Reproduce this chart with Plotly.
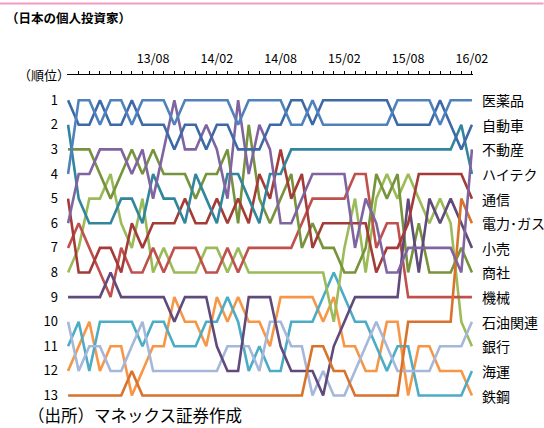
import plotly.graph_objects as go

# 39 monthly observations, 2012/12 .. 2016/02
months = ["12/12",
          "13/01","13/02","13/03","13/04","13/05","13/06","13/07","13/08","13/09","13/10","13/11","13/12",
          "14/01","14/02","14/03","14/04","14/05","14/06","14/07","14/08","14/09","14/10","14/11","14/12",
          "15/01","15/02","15/03","15/04","15/05","15/06","15/07","15/08","15/09","15/10","15/11","15/12",
          "16/01","16/02"]
tick_labels = ["13/08", "14/02", "14/08", "15/02", "15/08", "16/02"]

# rank series (1 = top)
rank_iyakuhin = [4,1,1,2,1,1,2,1,1,1, 2,1,1,1,1,1,2,1,1,1, 1,2,2,1,2,2,2,2,2,2, 2,1,1,1,1,2,1,1,1]
rank_jidosha  = [1,2,2,1,2,2,1,2,2,2, 3,2,2,3,2,2,3,3,3,2, 2,1,1,2,1,1,1,1,1,1, 1,2,2,2,2,1,2,3,2]
rank_fudosan  = [6,4,4,3,3,3,4,3,5,3, 1,3,3,2,3,5,1,4,2,3, 6,6,5,4,4,4,4,7,5,6, 8,8,7,7,7,7,7,8,3]
rank_hightech = [2,5,6,6,6,5,5,6,4,5, 5,6,4,5,6,4,4,5,6,4, 4,3,3,3,3,3,3,3,3,3, 3,3,3,3,3,3,3,2,4]
rank_tsushin  = [5,8,8,7,7,8,6,7,6,6, 6,5,6,6,5,6,5,6,4,5, 3,5,4,7,6,6,6,6,6,8, 7,7,6,4,4,4,4,4,5]
rank_denryoku = [13,13,13,13,13,13,12,13,13,13, 13,13,13,13,13,13,13,13,13,13, 13,13,13,11,11,12,12,13,13,13, 13,13,10,10,10,10,10,5,6]
rank_kouri    = [9,9,9,9,8,9,9,9,9,9, 10,9,9,9,11,12,12,9,9,9, 11,12,12,12,13,11,10,9,9,9, 9,9,5,8,5,6,5,6,7]
rank_shosha   = [3,3,3,4,5,4,3,4,3,4, 4,4,5,4,4,3,6,2,5,6, 5,4,7,6,7,7,8,8,7,4, 5,4,8,6,8,8,8,7,8]
rank_kikai    = [7,6,7,8,9,7,8,8,7,8, 7,7,7,8,8,7,8,7,7,7, 7,7,6,5,5,5,5,4,4,7, 6,6,9,9,9,9,9,9,9]
rank_sekiyu   = [10,12,11,11,12,12,11,10,12,12, 12,12,12,12,12,11,11,11,12,10, 10,11,11,13,12,13,13,12,11,10, 11,12,12,12,12,11,11,11,10]
rank_ginko    = [8,7,5,5,4,6,7,5,8,7, 8,8,8,7,7,8,7,8,8,8, 8,8,8,8,8,10,7,5,8,5, 4,5,4,5,6,5,6,10,11]
rank_kaiun    = [11,10,12,10,10,10,10,11,10,10, 11,11,11,10,10,9,10,12,11,12, 12,10,10,10,9,8,9,10,10,11, 12,11,11,13,13,13,13,13,12]
rank_tekko    = [12,11,10,12,11,11,13,12,11,11, 9,10,10,11,9,10,9,10,10,11, 9,9,9,9,10,9,11,11,12,12, 10,10,13,11,11,12,12,12,13]

sector_names = ["医薬品", "自動車", "不動産", "ハイテク", "通信", "電力・ガス", "小売",
                "商社", "機械", "石油関連", "銀行", "海運", "鉄鋼"]
sector_ranks = [rank_iyakuhin, rank_jidosha, rank_fudosan, rank_hightech, rank_tsushin,
                rank_denryoku, rank_kouri, rank_shosha, rank_kikai, rank_sekiyu,
                rank_ginko, rank_kaiun, rank_tekko]
sector_colors = ["#4F81BD", "#3D69A6", "#8064A2", "#31859C", "#A33B38", "#D9722A", "#604A7B",
                 "#77933C", "#C0504D", "#A5B7DA", "#9BBB59", "#4BACC6", "#F79646"]

FONT = "Noto Sans CJK JP"
W, H = 544, 428
L, R, T, B = 67.2, 473.4, 74.5, 397.8


def px(x):
    return (x - L) / (R - L)


def py(y):
    return (B - y) / (B - T)


def label_html(name):
    # the source font sets the middle dot narrow: use the half-width form
    return name.replace("・", "･")


fig = go.Figure()
# draw so that the first listed sector ends on top
for name, ranks, color in reversed(list(zip(sector_names, sector_ranks, sector_colors))):
    fig.add_trace(go.Scatter(x=months, y=ranks, mode="lines", name=name,
                             line=dict(color=color, width=2.6), hoverinfo="skip"))

# final-rank labels on the right
for name, ranks in zip(sector_names, sector_ranks):
    fig.add_annotation(x=months[-1], y=ranks[-1], text=label_html(name), showarrow=False,
                       xanchor="left", yanchor="middle", xshift=8,
                       font=dict(family=FONT, size=14, color="#000000"))

fig.add_annotation(xref="paper", yref="paper", x=px(4), y=py(17), text="<b>（日本の個人投資家）</b>",
                   showarrow=False, xanchor="left", yanchor="middle",
                   font=dict(family=FONT, size=12.5, color="#000000"))
fig.add_annotation(xref="paper", yref="paper", x=px(72), y=py(74), text="（順位）",
                   showarrow=False, xanchor="right", yanchor="middle",
                   font=dict(family=FONT, size=13, color="#000000"))
fig.add_annotation(xref="paper", yref="paper", x=px(26), y=py(415), text="（出所）マネックス証券作成",
                   showarrow=False, xanchor="left", yanchor="middle",
                   font=dict(family=FONT, size=16.5, color="#000000"))

fig.add_shape(type="line", xref="paper", yref="paper", x0=px(0), x1=px(W), y0=py(3), y1=py(3),
              line=dict(color="#F49AC9", width=2))

fig.update_layout(
    width=W, height=H,
    margin=dict(l=L, r=W - R, t=T, b=H - B, pad=0, autoexpand=False),
    paper_bgcolor="white", plot_bgcolor="white",
    showlegend=False,
    font=dict(family=FONT, color="#000000"),
    xaxis=dict(type="category", side="top", range=[-0.1, len(months) - 0.9],
               showgrid=False, zeroline=False, showline=True, linecolor="#000000", linewidth=1,
               ticks="outside", ticklen=3, tickwidth=1, tickcolor="#000000",
               tickvals=months[1:],
               ticktext=[m if m in tick_labels else "" for m in months[1:]],
               tickfont=dict(family=FONT, size=12.5, color="#000000"),
               ticklabelstandoff=3),
    yaxis=dict(range=[13.1, -0.023], showgrid=False, zeroline=False, showline=False,
               tickvals=list(range(1, 14)), ticktext=[str(i) for i in range(1, 14)],
               ticks="", tickfont=dict(family=FONT, size=13, color="#000000"),
               ticklabelstandoff=8),
)

fig.write_html("out.html", config={"displayModeBar": False},
               post_script="document.body.style.margin='0px';document.body.style.overflow='hidden';")
